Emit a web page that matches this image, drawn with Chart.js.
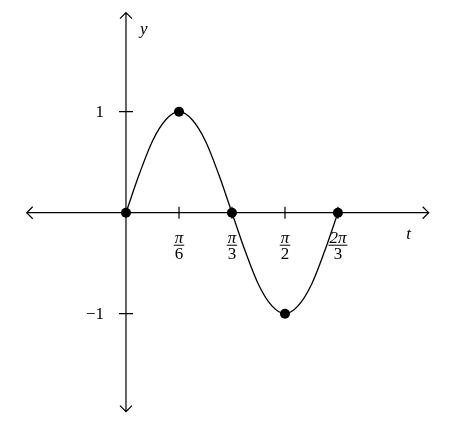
<!DOCTYPE html>
<html>
<head>
<meta charset="utf-8">
<script src="https://cdn.jsdelivr.net/npm/chart.js@4"></script>
<style>
  html, body { margin: 0; padding: 0; background: #fff; }
  #wrap { width: 451px; height: 428px; }
</style>
</head>
<body>
<div id="wrap"><canvas id="plot"></canvas></div>
<script>
// curve samples (t in radians)
const curveT = [0, 0.131, 0.262, 0.393, 0.524, 0.654, 0.785, 0.916, 1.047,
  1.178, 1.309, 1.440, 1.571, 1.702, 1.833, 1.963, 2.094];
const curveY = [0, 0.38, 0.71, 0.92, 1, 0.92, 0.71, 0.38, 0,
  -0.38, -0.71, -0.92, -1, -0.92, -0.71, -0.38, 0];

// marked points
const dotT = [0, 0.524, 1.047, 1.571, 2.094];
const dotY = [0, 1, 0, -1, 0];

// tick labels
const xTickVals = [0.524, 1.047, 1.571, 2.094];
const xTickNum = ["π", "π", "π", "2π"];
const xTickDen = ["6", "3", "2", "3"];
const yTickVals = [1, -1];
const yTickLabels = ["1", "−1"];

const serif = '"Liberation Serif", "DejaVu Serif", serif';

// draws the axes through the origin, arrows, ticks and labels
const axesPlugin = {
  id: "axes",
  beforeDatasetsDraw(chart) {
    const ctx = chart.ctx;
    const xs = chart.scales.x, ys = chart.scales.y;
    const x0 = xs.getPixelForValue(0), y0 = ys.getPixelForValue(0);
    const L = xs.left, R = xs.right, T = ys.top, B = ys.bottom;

    ctx.save();
    ctx.strokeStyle = "#000";
    ctx.lineWidth = 1.2;
    ctx.beginPath();
    ctx.moveTo(L, y0); ctx.lineTo(R, y0);
    ctx.moveTo(x0, T); ctx.lineTo(x0, B);
    // arrow heads
    const a = 6;
    ctx.moveTo(R - a, y0 - a); ctx.lineTo(R, y0); ctx.lineTo(R - a, y0 + a);
    ctx.moveTo(L + a, y0 - a); ctx.lineTo(L, y0); ctx.lineTo(L + a, y0 + a);
    ctx.moveTo(x0 - a, T + a); ctx.lineTo(x0, T); ctx.lineTo(x0 + a, T + a);
    ctx.moveTo(x0 - a, B - a); ctx.lineTo(x0, B); ctx.lineTo(x0 + a, B - a);
    // ticks
    xTickVals.forEach(v => {
      const px = xs.getPixelForValue(v);
      ctx.moveTo(px, y0 - 6); ctx.lineTo(px, y0 + 6);
    });
    yTickVals.forEach(v => {
      const py = ys.getPixelForValue(v);
      ctx.moveTo(x0 - 7, py); ctx.lineTo(x0 + 7, py);
    });
    ctx.stroke();

    ctx.fillStyle = "#000";
    ctx.textBaseline = "alphabetic";
    // x fractions
    xTickVals.forEach((v, i) => {
      const px = xs.getPixelForValue(v);
      ctx.textAlign = "center";
      ctx.font = "italic 17px " + serif;
      const w = ctx.measureText(xTickNum[i]).width;
      ctx.fillText(xTickNum[i], px, y0 + 30);
      ctx.font = "17px " + serif;
      ctx.fillText(xTickDen[i], px, y0 + 46);
      ctx.beginPath();
      ctx.lineWidth = 1;
      ctx.moveTo(px - w / 2 - 1, y0 + 32.5);
      ctx.lineTo(px + w / 2 + 1, y0 + 32.5);
      ctx.stroke();
    });
    // y labels
    ctx.textAlign = "right";
    ctx.textBaseline = "middle";
    ctx.font = "17px " + serif;
    yTickVals.forEach((v, i) => {
      ctx.fillText(yTickLabels[i], x0 - 22, ys.getPixelForValue(v) + 1);
    });
    // axis names
    ctx.font = "italic 17px " + serif;
    ctx.textAlign = "left";
    ctx.fillText("y", x0 + 14, T + 17);
    ctx.fillText("t", xs.getPixelForValue(2.77), y0 + 22);
    ctx.restore();
  }
};

new Chart(document.getElementById("plot"), {
  type: "scatter",
  data: {
    datasets: [
      {
        data: curveT.map((t, i) => ({ x: t, y: curveY[i] })),
        showLine: true,
        borderColor: "#000",
        borderWidth: 1.3,
        pointRadius: 0,
        cubicInterpolationMode: "monotone",
        fill: false
      },
      {
        data: dotT.map((t, i) => ({ x: t, y: dotY[i] })),
        showLine: false,
        pointRadius: 5,
        pointBackgroundColor: "#000",
        pointBorderColor: "#000",
        pointBorderWidth: 0
      }
    ]
  },
  options: {
    responsive: true,
    maintainAspectRatio: false,
    animation: false,
    events: [],
    layout: { padding: { left: 26.7, right: 22.3, top: 12.7, bottom: 16.3 } },
    plugins: { legend: { display: false }, tooltip: { enabled: false } },
    scales: {
      x: { type: "linear", min: -0.981, max: 2.991, display: false },
      y: { type: "linear", min: -1.97, max: 1.98, display: false }
    }
  },
  plugins: [axesPlugin]
});
</script>
</body>
</html>
